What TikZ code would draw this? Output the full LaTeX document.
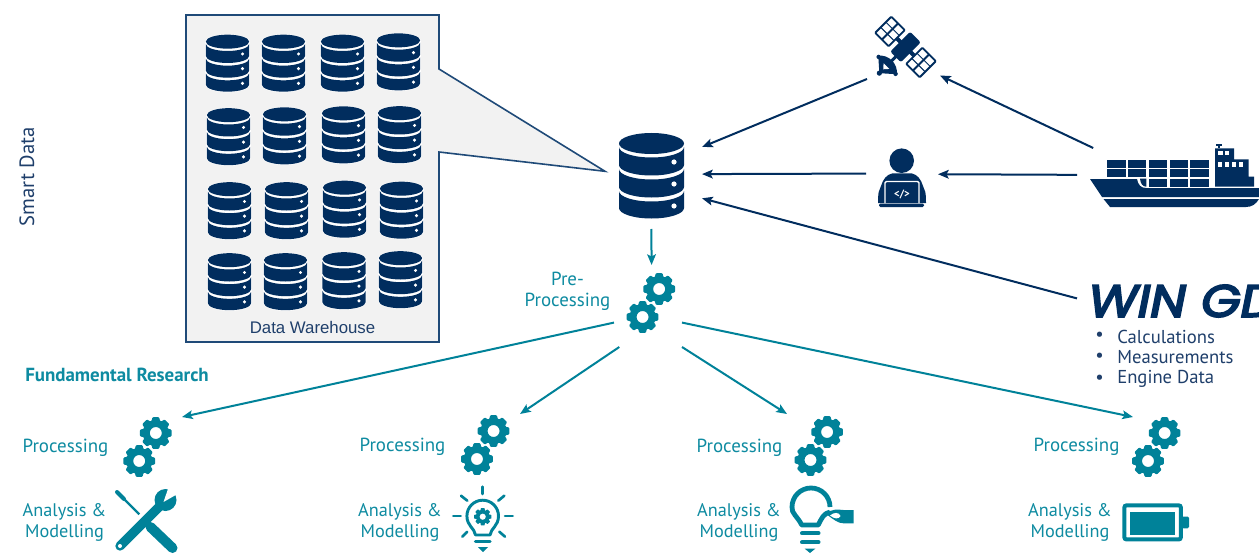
\documentclass[tikz,border=0pt]{standalone}
\usepackage{fontspec}
\setmainfont{PT Sans}
\newfontfamily\arialf{Liberation Sans}
\newfontfamily\logof{Poppins}[FakeBold=4]
\usetikzlibrary{arrows.meta,calc}
\definecolor{navy}{HTML}{012D5E}
\definecolor{petrol}{HTML}{008299}
\definecolor{petroltext}{HTML}{0E8BA1}
\definecolor{framec}{HTML}{1F4A78}
\definecolor{navytext}{HTML}{1F3F6B}
\tikzset{
  x=.75pt,y=-.75pt,
  hit/.style 2 args={minimum width=#1*.75pt,minimum height=#2*.75pt,inner sep=0pt,outer sep=0pt},
  navyarr/.style={draw=navy,line width=1.5pt,-{Stealth[length=8pt,width=6.5pt,inset=1.6pt]}},
  petarr/.style={draw=petrol,line width=1.5pt,-{Stealth[length=8pt,width=6.5pt,inset=1.6pt]}},
  lab/.style={text=petroltext,font=\fontsize{14.2pt}{15.8pt}\selectfont,align=center,inner sep=0pt},
  lab2/.style={lab,font=\fontsize{13.7pt}{15.8pt}\selectfont},
  bul/.style={text=navytext,font=\fontsize{14pt}{15.8pt}\selectfont,anchor=west,inner sep=0pt},
  dbicon/.pic={
    \fill[white] (-33.5,-32) -- (-33.5,32.5) arc[start angle=180,end angle=0,x radius=33.5,y radius=11.5] -- (33.5,-32) arc[start angle=0,end angle=-180,x radius=33.5,y radius=11] -- cycle;
    \fill[navy] (0,-32) ellipse[x radius=32.5,y radius=10.5];
    \foreach \t/\b in {-28.5/-10.5,-6.5/11.5,15.5/32.5}{
      \fill[navy] (-32.5,\t) arc[start angle=180,end angle=0,x radius=32.5,y radius=10.5] -- (32.5,\b) arc[start angle=0,end angle=180,x radius=32.5,y radius=10.5] -- cycle;
    }
    \foreach \d in {-13.5,8.5,30.5}{\fill[white] (22.5,\d) circle[radius=2.6];}
  },
  geartooth/.pic={
    \fill[petrol,even odd rule,rounded corners=.7pt] (-20:12.6)
      \foreach \a in {0,45,...,315}{ -- (\a-20:12.6) -- (\a-12:16.2) -- (\a+12:16.2) -- (\a+20:12.6)} -- cycle
      (0,0) circle[radius=6];
  },
  gearpair/.pic={
    \pic at (8.3,-14) {geartooth};
    \pic at (-8.3,14) {geartooth};
  },
}
\begin{document}
\begin{tikzpicture}
\useasboundingbox (0,0) rectangle (1259,556);
\clip (0,0) rectangle (1259,556);
\fill[white] (0,0) rectangle (1259,556);

% invisible nodes that stand for the icons
\node[hit={97}{82}] (hub) at (653.5,188) {};
\node[hit={73}{64}] (sat) at (903.5,47) {};
\node[hit={72}{60}] (person) at (902,178) {};
\node[hit={181}{60}] (ship) at (1167.5,178) {};
\node[hit={182}{36}] (wingd) at (1168,300) {};
\node[hit={68}{82}] (pre) at (648,306) {};
\node[hit={69}{60}] (p1) at (147.5,447) {};
\node[hit={69.5}{62}] (p2) at (485.25,445) {};
\node[hit={63.6}{64}] (p3) at (818.8,446) {};
\node[hit={46.6}{60}] (p4) at (1156.3,447) {};

% warehouse callout
\draw[fill=black!5,draw=framec,line width=1.2pt,line join=miter]
  (186,15) -- (439,15) -- (439,69) -- (hub.161.7) -- (439,152) -- (439,342) -- (186,342) -- cycle;
\foreach \cx/\cy in {227.5/63,283.5/63,342.5/63,398.5/61.7,
                     228.5/136.5,284.5/135.7,343.5/134.7,399.5/134.5,
                     229.5/210.5,286.5/210.5,344.5/209,401.5/210,
                     229.5/281.5,285.5/281.5,344/280.5,400.5/279.5}{
  \pic[scale=.667] at (\cx,\cy) {dbicon};
}
\node[font=\arialf\fontsize{12.6pt}{15pt}\selectfont,text=navytext,inner sep=0pt] (dw) at (312.5,327.5) {Data Warehouse};

% hub database
\pic at (651.5,175.5) {dbicon};

% satellite
\begin{scope}[shift={(905.5,47)},rotate=-45]
  \foreach \s in {-1,1}{
    \begin{scope}[xscale=\s]
      \fill[navy,rounded corners=1pt] (11.5,-12.3) rectangle (32.5,12.3);
      \foreach \u in {13.6,23.1}{
        \foreach \v in {-10.3,-3,4.3}{
          \fill[white] (\u,\v) rectangle ++(7.2,6);
        }
      }
      \fill[navy] (6,-2) rectangle (12,2);
    \end{scope}
  }
  \fill[navy,rounded corners=1.5pt] (-7.5,-14) rectangle (7.5,14);
  \fill[navy] (-1.5,12) rectangle (1.5,21);
  \fill[navy] (-13,25.5) .. controls (-7,17) and (7,17) .. (13,25.5) -- (0,37) -- cycle;
  \fill[navy] (0,37) circle[radius=2.6] (-12,26) circle[radius=2.2] (12,26) circle[radius=2.2];
  \fill[white] (-4,27) -- (4,27) -- (0,31.5) -- cycle;
\end{scope}

% person
\fill[navy] (901.7,160.7) circle[radius=12.3];
\fill[navy] (878,203) .. controls (878,192) and (879,190) .. (881,186) .. controls (883,179) and (887,174.5) .. (892,173.5) -- (912,173.5) .. controls (917,174.5) and (921,179) .. (923,186) .. controls (925,190) and (926,192) .. (926,203) -- cycle;
\fill[navy] (885,181.5) rectangle (919,203);
\draw[white,line width=1.1pt,rounded corners=1pt] (885,204) -- (885,181.5) -- (919,181.5) -- (919,204);
\fill[navy,rounded corners=1pt] (879,203.5) rectangle (924,207);
\node[text=white,font=\bfseries\fontsize{8pt}{9pt}\selectfont,inner sep=0pt] (code) at (902,194) {</>};

% ship
\fill[navy] (1090,179) -- (1137,179) .. controls (1138,185) and (1141,188) .. (1146,188) -- (1259,188) -- (1259,197) -- (1102,197) -- cycle;
\fill[navy] (1103.5,199) -- (1259,199) .. controls (1256,204) and (1252,207) .. (1246,207) -- (1110,207) -- cycle;
\foreach \xa/\xb in {1106.7/1125.7,1128/1146.3,1148.7/1167.3,1169.7/1188.3,1190.3/1209.3}{
  \fill[navy] (\xa,160) rectangle (\xb,167.7);
  \fill[navy] (\xa,169.3) rectangle (\xb,177);
}
\foreach \xa/\xb in {1148.7/1167.3,1169.7/1188.3,1190.3/1209.3}{
  \fill[navy] (\xa,178.7) rectangle (\xb,186.7);
}
\fill[navy] (1140,178.7) -- (1146.3,178.7) -- (1146.3,186.7) .. controls (1143,186.7) and (1140.5,184) .. (1140,178.7) -- cycle;
\fill[navy] (1215,148.3) -- (1234,148.3) -- (1234,159.3) -- (1248.7,159.3) -- (1248.7,176.7) -- (1254,176.7) -- (1254,186.7) -- (1215,186.7) -- cycle;
\fill[navy] (1215.5,144) rectangle (1222,146);
\fill[navy] (1218,146) rectangle (1220,148.5);
\foreach \xa in {1218,1224.5}{\fill[white] (\xa,151) rectangle ++(4.6,4.4);}
\foreach \xa in {1218,1225,1232,1239}{\fill[white] (\xa,162.3) rectangle ++(4.4,4.4);}

% WinGD
\node[inner sep=0pt,anchor=west,text=navy,xscale=1.12,transform shape,font=\logof\itshape\fontsize{34pt}{34pt}\selectfont] (logo) at (1088,301) {WIN GD};
\node[bul] (b1) at (1095,336.5) {•};
\node[bul] (b2) at (1095,357.5) {•};
\node[bul] (b3) at (1095,379) {•};
\node[bul] (t1) at (1117,336.5) {Calculations};
\node[bul] (t2) at (1117,357.5) {Measurements};
\node[bul] (t3) at (1117,379) {Engine Data};

% side labels
\node[text=navytext,rotate=90,font=\fontsize{15.5pt}{18pt}\selectfont,inner sep=0pt] (smart) at (27,177) {Smart Data};
\node[lab,anchor=west,font=\bfseries\fontsize{14.2pt}{16pt}\selectfont] (fund) at (25,374.5) {Fundamental Research};
\node[lab] (prep) at (567.5,291) {Pre-\\Processing};

% gears
\pic at (650.85,303) {gearpair};
\pic at (147.5,447) {gearpair};
\pic at (485.25,445) {gearpair};
\pic at (818.8,446) {gearpair};
\pic at (1156.3,447) {gearpair};

% processing labels
\node[lab] (l1) at (65.5,448) {Processing};
\node[lab] (l2) at (402.5,447) {Processing};
\node[lab] (l3) at (739.5,448) {Processing};
\node[lab] (l4) at (1076.5,447) {Processing};
\node[lab2] (a1) at (64.5,522) {Analysis \&\\Modelling};
\node[lab2] (a2) at (400,522) {Analysis \&\\Modelling};
\node[lab2] (a3) at (739,522) {Analysis \&\\Modelling};
\node[lab2] (a4) at (1070,522) {Analysis \&\\Modelling};

% tools
\draw[petrol,line width=1.7pt] (122,497) -- (139.3,514.3);
\draw[petrol,line width=3pt,line cap=round] (117,492) -- (124,499);
\draw[petrol,line width=7.5pt,line cap=round] (150.5,527) -- (172.5,548);
\draw[petrol,line width=7pt,line cap=round] (120,546) -- (163,503);
\fill[petrol] (165.5,500) circle[radius=11];
\fill[white] (163.5,502) -- (169,486) -- (181,492) -- cycle;
\fill[white] (120,546) circle[radius=2];

% bulb with gear
\draw[petrol,line width=2.2pt,line cap=round,line join=round] (475.5,535) -- (490,535) .. controls (491,528) and (498.5,526) .. (498.5,516) arc[start angle=0,end angle=-180,radius=15.8] .. controls (466.9,526) and (474.5,528) .. (475.5,535);
\foreach \xa/\ya/\xb/\yb in {482.7/486.7/482.7/494,461/495.7/467.3/500.7,504.3/495.7/498.3/500.7,453.3/516/460.7/516,505/516/512.7/516,462.3/536.7/467.3/531.7,505/536.7/499.3/531.7}{
  \draw[petrol,line width=2pt,line cap=round] (\xa,\ya) -- (\xb,\yb);
}
\draw[petrol,line width=2.4pt,line cap=round] (475.5,541.5) -- (490,541.5);
\fill[petrol] (478,547.2) -- (488,547.2) -- (483,552) -- cycle;
\begin{scope}[shift={(482.7,516.7)}]
  \fill[petrol,even odd rule,rounded corners=.25pt] (-20:6.6)
    \foreach \a in {0,45,...,315}{ -- (\a-20:6.6) -- (\a-12:8.8) -- (\a+12:8.8) -- (\a+20:6.6)} -- cycle
    (0,0) circle[radius=3.2];
\end{scope}

% bulb with tag
\draw[petrol,line width=3.6pt,line join=round] (830,507) arc[start angle=0,end angle=-180,x radius=19,y radius=19] .. controls (791,513) and (798,517) .. (801.7,525) -- (818.3,525) .. controls (821,519) and (824,513) .. (830,512);
\fill[petrol] (826,514) .. controls (831,508.5) and (838,509.5) .. (843.5,510) -- (853.5,510) -- (853.5,523.3) -- (843.5,523.3) .. controls (838,523.5) and (833,519) .. (826,514) -- cycle;
\fill[white] (830,515.5) .. controls (834,512) and (839,512) .. (840.5,516) .. controls (839,519.5) and (834,519) .. (830,515.5) -- cycle;
\draw[petrol,line width=3pt,line cap=round] (802,533.3) -- (818.5,533.3);
\draw[petrol,line width=3pt,line cap=round] (802,542.3) -- (818.5,542.3);
\fill[petrol] (804.5,548.5) -- (815.5,548.5) -- (810,553) -- cycle;

% battery
\draw[petrol,line width=3pt,rounded corners=1.5pt] (1124.4,505.4) rectangle (1180.8,539.4);
\fill[petrol] (1130,512) rectangle (1175,534.5);
\fill[petrol,rounded corners=1pt] (1182,516.5) rectangle (1189,528.3);

% connectors
\draw[navyarr] (sat.south west) -- (hub.north east);
\draw[navyarr] (person.173.7) -- (hub.16.1);
\draw[navyarr] (wingd.179.4) -- (hub.-12.8);
\draw[navyarr] (ship.158.3) -- (sat.-38.5);
\draw[navyarr] (ship.178.1) -- (person.6.3);
\draw[petarr] (hub.-93.5) -- (pre.85.8);
\draw[petarr] (pre.206.6) -- (p1.north east);
\draw[petarr] (pre.235.7) -- (p2.north east);
\draw[petarr] (pre.south east) -- (p3.north west);
\draw[petarr] (pre.-26.6) -- (p4.north west);
\end{tikzpicture}
\end{document}
